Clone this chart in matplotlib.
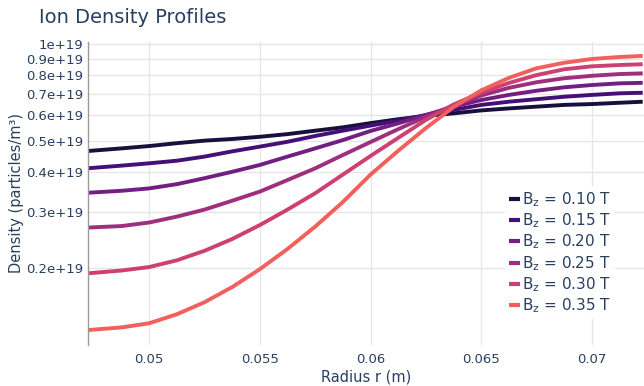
import numpy as np
import matplotlib.pyplot as plt
from matplotlib.ticker import FixedLocator, NullLocator

# radial positions (m)
r = [0.0472, 0.04875, 0.0500, 0.05125, 0.0525, 0.05375, 0.0550, 0.05625,
     0.0575, 0.05875, 0.0600, 0.06125, 0.0625, 0.06375, 0.0650, 0.06625,
     0.0675, 0.06875, 0.0700, 0.07125, 0.0723]

# ion density in units of 1e19 particles/m^3, one profile per axial field
n_010 = [0.464, 0.473, 0.481, 0.491, 0.500, 0.506, 0.514, 0.524, 0.537, 0.550, 0.567,
         0.583, 0.597, 0.608, 0.621, 0.630, 0.638, 0.646, 0.650, 0.656, 0.661]
n_015 = [0.410, 0.418, 0.425, 0.433, 0.446, 0.463, 0.479, 0.496, 0.517, 0.537, 0.557,
         0.577, 0.601, 0.623, 0.646, 0.661, 0.673, 0.685, 0.694, 0.702, 0.705]
n_020 = [0.344, 0.349, 0.355, 0.366, 0.382, 0.400, 0.420, 0.446, 0.473, 0.502, 0.536,
         0.566, 0.601, 0.638, 0.669, 0.694, 0.715, 0.733, 0.745, 0.754, 0.757]
n_025 = [0.268, 0.271, 0.278, 0.290, 0.305, 0.325, 0.347, 0.377, 0.410, 0.451, 0.495,
         0.543, 0.593, 0.643, 0.691, 0.730, 0.760, 0.782, 0.796, 0.806, 0.810]
n_030 = [0.193, 0.197, 0.202, 0.212, 0.227, 0.247, 0.273, 0.305, 0.343, 0.392, 0.448,
         0.510, 0.580, 0.648, 0.705, 0.756, 0.800, 0.834, 0.852, 0.860, 0.865]
n_035 = [0.1285, 0.131, 0.135, 0.144, 0.157, 0.175, 0.199, 0.230, 0.270, 0.322, 0.392,
         0.465, 0.547, 0.636, 0.717, 0.784, 0.840, 0.874, 0.898, 0.911, 0.918]

bz = [0.10, 0.15, 0.20, 0.25, 0.30, 0.35]
perfiles = [n_010, n_015, n_020, n_025, n_030, n_035]
colores = ['#180f3d', '#440f76', '#721f81', '#9e2f7f', '#cd4071', '#f1605d']

ytick_vals = [0.2, 0.3, 0.4, 0.5, 0.6, 0.7, 0.8, 0.9, 1.0]
ytick_txt = ['0.2e+19', '0.3e+19', '0.4e+19', '0.5e+19', '0.6e+19',
             '0.7e+19', '0.8e+19', '0.9e+19', '1e+19']
xtick_vals = [0.05, 0.055, 0.06, 0.065, 0.07]
xtick_txt = ['0.05', '0.055', '0.06', '0.065', '0.07']

texto = '#2a3f5f'
plt.rcParams['font.family'] = ['DejaVu Sans']
plt.rcParams['mathtext.default'] = 'regular'

fig = plt.figure(figsize=(6.44, 3.86), dpi=100)
ax = fig.add_axes([0.136, 0.106, 0.864, 0.786])

for b, n, c in zip(bz, perfiles, colores):
    ax.plot(r, np.array(n) * 1e19, color=c, lw=2.8,
            label=r'$B_z$ = %.2f T' % b, solid_capstyle='butt')

ax.set_yscale('log')
ax.set_xlim(0.04721, 0.07236)
ax.set_ylim(0.1154e19, 1.0166e19)

ax.yaxis.set_major_locator(FixedLocator(np.array(ytick_vals) * 1e19))
ax.yaxis.set_minor_locator(NullLocator())
ax.set_yticklabels(ytick_txt)
ax.set_xticks(xtick_vals)
ax.set_xticklabels(xtick_txt)

ax.grid(True, color='#e6e6e6', lw=1)
ax.set_axisbelow(True)
for lado in ['top', 'right', 'bottom']:
    ax.spines[lado].set_visible(False)
ax.spines['left'].set_color('#9a9a9a')
ax.spines['left'].set_linewidth(1)
ax.tick_params(axis='both', length=0, labelsize=9.5, colors=texto, pad=3)
ax.tick_params(axis='x', pad=6)

ax.set_xlabel('Radius r (m)', fontsize=10.5, color=texto, labelpad=2)
ax.set_ylabel('Density (particles/m³)', fontsize=10.5, color=texto, labelpad=2)
fig.text(0.06, 0.955, 'Ion Density Profiles', fontsize=14, color=texto,
         va='center', ha='left')

leg = ax.legend(loc='upper left', bbox_to_anchor=(0.736, 0.55), fontsize=11,
                handlelength=0.7, handletextpad=0.1, labelspacing=0.16,
                borderpad=0.3, frameon=True, fancybox=False)
leg.get_frame().set_facecolor('white')
leg.get_frame().set_edgecolor('none')
leg.get_frame().set_alpha(0.9)
for t in leg.get_texts():
    t.set_color(texto)
for h in leg.get_lines():
    h.set_linewidth(3)

fig.savefig('out.png', dpi=100)
